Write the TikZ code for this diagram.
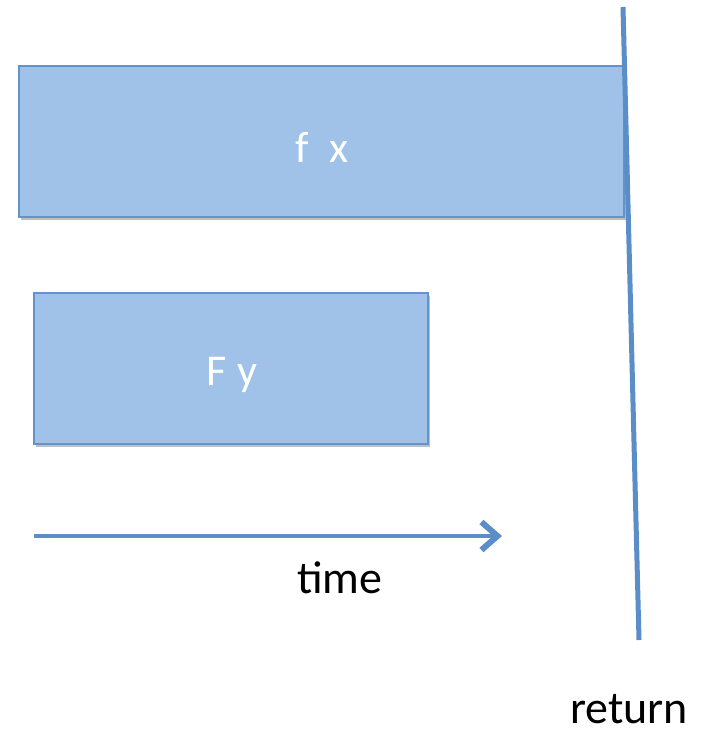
\documentclass[tikz,border=0pt]{standalone}
\usepackage{fontspec}
\setmainfont{Carlito}
\usetikzlibrary{arrows.meta,shadows}
\definecolor{boxfill}{HTML}{A0C2E8}
\definecolor{boxline}{HTML}{6294CB}
\definecolor{lineblue}{HTML}{5B8EC6}
\tikzset{
  taskbox/.style={draw=boxline, line width=2.5pt, fill=boxfill,
    inner sep=0pt,
    drop shadow={shadow xshift=2pt, shadow yshift=-3pt, opacity=0.25, fill=black}},
  boxtext/.style={text=white, inner sep=0pt, font=\fontsize{44}{48}\selectfont},
  biglabel/.style={font=\fontsize{46}{50}\selectfont, text=black, inner sep=0pt},
  blueline/.style={draw=lineblue, line width=4.5pt}
}
\begin{document}
\begin{tikzpicture}[x=1pt,y=-1pt]
\useasboundingbox (0,0) rectangle (708,734);
\node[taskbox, minimum width=605pt, minimum height=151pt] (fx) at (321.5,141.5) {};
\node[boxtext] (fxt) at (322,147) {f\ \ x};
\node[taskbox, minimum width=394pt, minimum height=151pt] (Fy) at (231,368.5) {};
\node[boxtext] (Fyt) at (232,375) {F y};
\coordinate (tstart) at (34,536);
\coordinate (tend) at (502,536);
\draw[blueline, -{Straight Barb[length=16pt,width=28pt,line width=6pt]}] (tstart) -- (tend);
\node[biglabel] (time) at (340,578) {time};
\coordinate (rtop) at (623,7);
\coordinate (rbot) at (639,640);
\draw[blueline, line width=5pt] (rtop) -- (rbot);
\node[biglabel] (ret) at (629,709) {return};
\end{tikzpicture}
\end{document}
